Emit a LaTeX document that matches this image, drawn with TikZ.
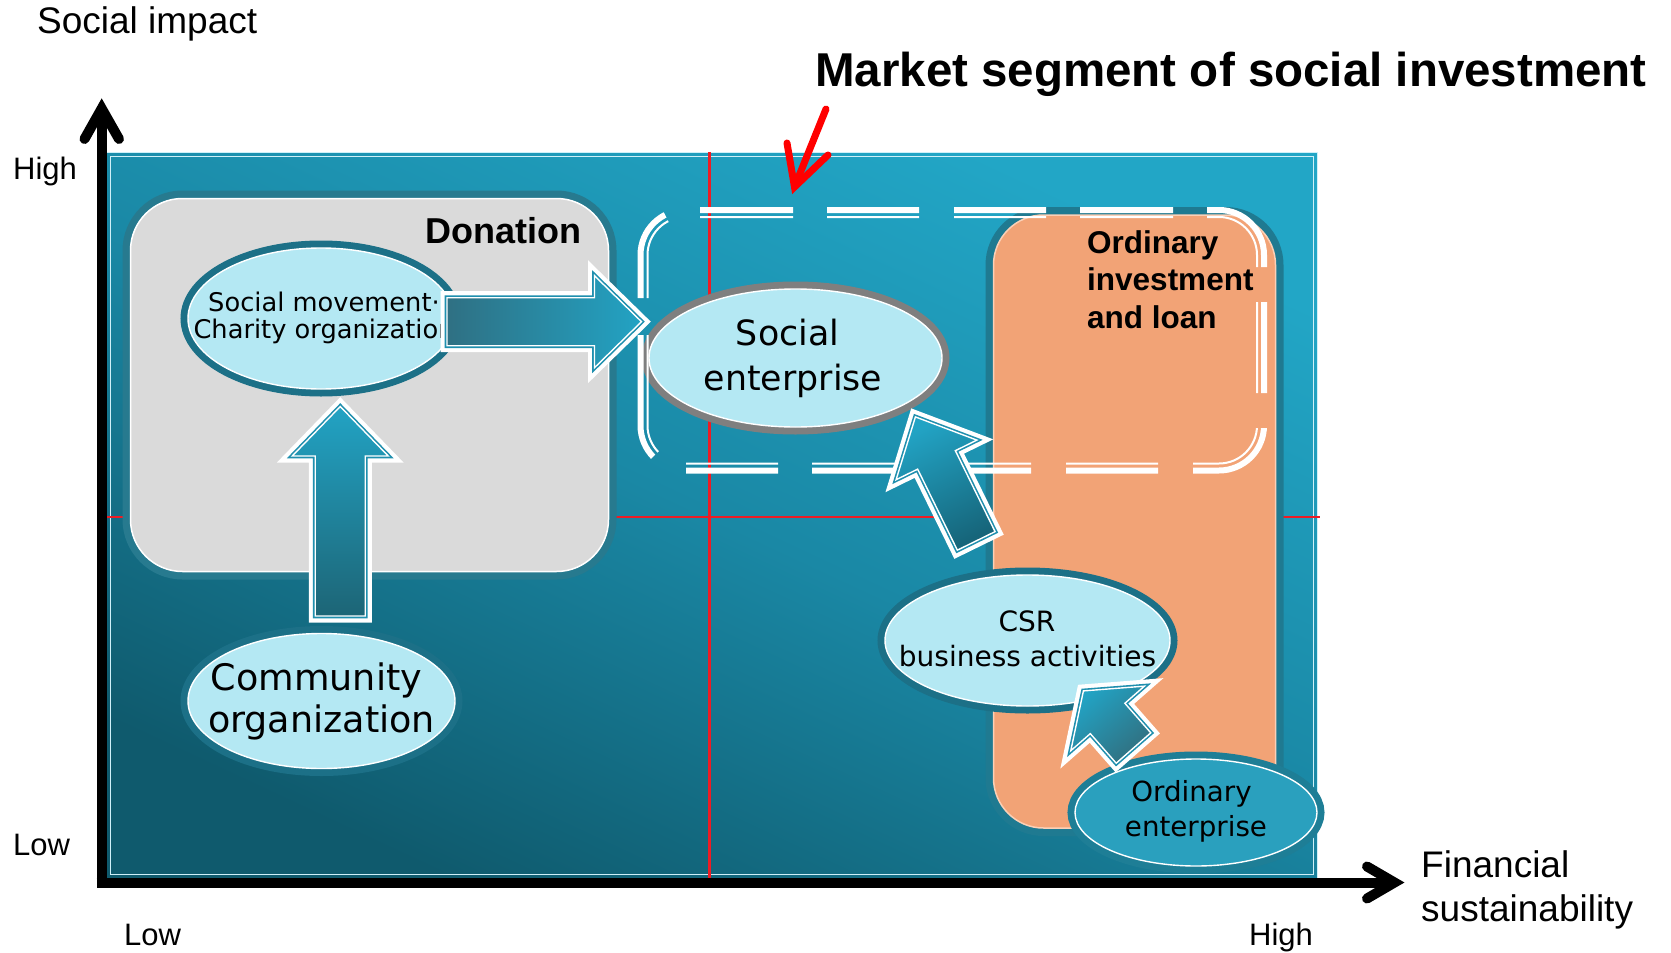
\documentclass[tikz,border=0pt]{standalone}
\usepackage{fontspec}
\setmainfont{Liberation Sans}
\newfontfamily\dvs{DejaVu Sans}
\usetikzlibrary{shapes.geometric,calc}

\definecolor{panellight}{HTML}{22A6C6}
\definecolor{panelmid}{HTML}{1A88A5}
\definecolor{paneldark}{HTML}{0F5A6D}
\definecolor{panelline}{HTML}{CFF0F8}
\definecolor{ellfill}{HTML}{B4E8F3}
\definecolor{bandteal}{HTML}{1C7087}
\definecolor{bandgrey}{HTML}{7F7F7F}
\definecolor{oefill}{HTML}{2AA0BE}
\definecolor{oeband}{HTML}{1E7E96}
\definecolor{boxgrey}{HTML}{DADADA}
\definecolor{boxband}{HTML}{277A8F}
\definecolor{salmon}{HTML}{F2A376}
\definecolor{salmonline}{HTML}{FBD0B6}
\definecolor{salmonband}{HTML}{1F7A91}
\definecolor{gridred}{HTML}{EE1C24}
\definecolor{arrlight}{HTML}{22A3C4}
\definecolor{arrgap}{HTML}{1F8FAE}
\definecolor{darkA}{HTML}{2F7083}
\definecolor{darkB}{HTML}{1D6576}
\definecolor{darkC}{HTML}{16657A}
\definecolor{darkD}{HTML}{316F7F}

% block arrow: #1 options, #2 tail, #3 tip, #4 head-back distance, #5 shaft half width, #6 head half width
\newcommand\blockarrow[6]{%
  \coordinate (#2-b) at ($(#2)!#4!(#3)$);
  \path[#1] ($(#2)!#5!90:(#3)$) -- ($(#2-b)!#5!90:(#3)$) -- ($(#2-b)!#6!90:(#3)$)
    -- (#3) -- ($(#2-b)!#6!-90:(#3)$) -- ($(#2-b)!#5!-90:(#3)$) -- ($(#2)!#5!-90:(#3)$) -- cycle;}

\tikzset{
  ell/.style={ellipse, inner sep=0pt, fill=ellfill, draw=white, line width=1.4pt,
    preaction={draw=#1, line width=15pt}},
  box/.style={rectangle, inner sep=0pt, line width=1.5pt},
  etxt/.style={anchor=base, inner sep=0pt},
  lbl/.style={anchor=base west, inner sep=0pt},
  axisline/.style={line width=10pt},
  axishead/.style={line width=10pt, line cap=round, line join=miter},
  gridline/.style={draw=gridred, line width=2.2pt},
  frameouter/.style={draw=white, line width=6pt, rounded corners=45pt},
  frameinner/.style={draw=white, line width=2pt, rounded corners=38pt},
  barrow/.style={draw=white, line width=1.4pt, line join=miter,
    preaction={draw=white, line width=13pt, line join=miter},
    preaction={draw=arrgap, line width=4.6pt, line join=miter}},
  redmark/.style={draw=red, line width=7pt, line cap=round, line join=miter},
}

\begin{document}
\begin{tikzpicture}[x=1pt,y=-1pt]
\useasboundingbox (0,0) rectangle (1671,953);

% quadrant panel
\path[top color=panellight, bottom color=paneldark, middle color=panelmid, shading angle=-25]
  (106,152) rectangle (1317,878);
\draw[panelline, line width=1pt] (106,152) rectangle (1317,878);
\draw[panelline, line width=1pt] (110,156) rectangle (1313,874);

% quadrant dividers
\draw[gridline] (709.5,152) -- (709.5,878);
\draw[gridline] (101,517) -- (1320,517);

% axes
\coordinate (origin) at (101.7,887.5);
\coordinate (ytip) at (101.7,108.5);
\coordinate (xorigin) at (96.7,882.5);
\coordinate (xtip) at (1394.5,882.5);
\draw[axisline] (origin) -- (ytip);
\draw[axishead] (84.5,139) -- (ytip) -- (119,139);
\draw[axisline] (xorigin) -- (xtip);
\draw[axishead] (1367,866.5) -- (xtip) -- (1367,898.5);

% axis labels
\node[lbl, font=\fontsize{37}{44}\selectfont] (ylabel) at (37,34) {Social impact};
\node[lbl, font=\fontsize{31}{37}\selectfont] (yhigh) at (13,179.5) {High};
\node[lbl, font=\fontsize{31}{37}\selectfont] (ylow) at (13,855) {Low};
\node[lbl, font=\fontsize{31}{37}\selectfont] (xlow) at (124,945) {Low};
\node[lbl, font=\fontsize{31}{37}\selectfont] (xhigh) at (1249,945) {High};
\node[lbl, font=\fontsize{37}{44}\selectfont] (xlabela) at (1421,877) {Financial};
\node[lbl, font=\fontsize{37}{44}\selectfont] (xlabelb) at (1421,921) {sustainability};

% funding areas
\node[box, fill=boxgrey, draw=white, rounded corners=52pt, preaction={draw=boxband, line width=16pt},
  minimum width=478pt, minimum height=373pt] (donbox) at (369.5,385) {};
\node[box, fill=salmon, draw=salmonline, rounded corners=50pt, preaction={draw=salmonband, line width=16pt},
  minimum width=282pt, minimum height=613pt] (invbox) at (1134.5,521.5) {};
\node[anchor=base east, inner sep=0pt, font=\bfseries\fontsize{36}{40}\selectfont] (dontxt) at (582,243.3) {Donation};
\node[lbl, font=\bfseries\fontsize{31.5}{37}\selectfont] (invtxta) at (1087,253.3) {Ordinary};
\node[lbl, font=\bfseries\fontsize{31.5}{37}\selectfont] (invtxtb) at (1087,290.5) {investment};
\node[lbl, font=\bfseries\fontsize{31.5}{37}\selectfont] (invtxtc) at (1087,328) {and loan};

% organisations
\node[ell=bandteal, minimum width=266pt, minimum height=141pt] (sm) at (321,318.5) {};
\node[ell=bandteal, minimum width=267pt, minimum height=135pt] (co) at (321.5,701) {};
\node[ell=bandgrey, minimum width=293pt, minimum height=138pt] (se) at (795.5,358) {};
\node[ell=bandteal, minimum width=285pt, minimum height=131pt] (csr) at (1027.5,640.5) {};
\node[ell=oeband, fill=oefill, minimum width=242pt, minimum height=107pt] (oe) at (1196,812.5) {};

\node[etxt, font=\dvs\fontsize{25.7}{28}\selectfont] (smta) at (324,311) {Social movement·};
\node[etxt, font=\dvs\fontsize{25.7}{28}\selectfont] (smtb) at (324,338.5) {Charity organization};
\node[etxt, font=\dvs\fontsize{36.5}{42}\selectfont] (cota) at (316.5,690) {Community};
\node[etxt, font=\dvs\fontsize{36.5}{42}\selectfont] (cotb) at (321.5,732) {organization};
\node[etxt, font=\dvs\fontsize{34.8}{42}\selectfont] (seta) at (787.5,345) {Social};
\node[etxt, font=\dvs\fontsize{34.8}{42}\selectfont] (setb) at (793,390) {enterprise};
\node[etxt, font=\dvs\fontsize{28}{34}\selectfont] (csrta) at (1027,631.7) {CSR};
\node[etxt, font=\dvs\fontsize{28}{34}\selectfont] (csrtb) at (1027.5,666.7) {business activities};
\node[etxt, font=\dvs\fontsize{27.7}{34}\selectfont] (oeta) at (1191.5,801.7) {Ordinary};
\node[etxt, font=\dvs\fontsize{27.7}{34}\selectfont] (oetb) at (1196,836.7) {enterprise};

% market segment frame (broken double line)
\begin{scope}
  \clip (685.5,255) -- (649.2,183.7) -- (600,183.7) -- (600,298) -- (670,298) -- (670,255) -- cycle
        (600,335) -- (670,335) -- (670,425.5) -- (685.5,425.5) -- (620.8,488) -- (600,488) -- cycle
        (700,190) rectangle (793,232)
        (827,190) rectangle (919,232)
        (954,190) rectangle (1046,232)
        (1080,190) rectangle (1173,232)
        (1207,190) -- (1290,190) -- (1290,267) -- (1240,267) -- (1240,232) -- (1207,232) -- cycle
        (1240,302) rectangle (1290,393)
        (1240,428) -- (1290,428) -- (1290,495) -- (1193,495) -- (1193,450) -- (1240,450) -- cycle
        (686,445) rectangle (778,495)
        (812,445) rectangle (906,495)
        (940,445) rectangle (1031,495)
        (1066,445) rectangle (1158,495);
  \draw[frameouter] (640.5,210) rectangle (1264,470.5);
  \draw[frameinner] (647.5,217) rectangle (1257,463.5);
\end{scope}

% transitions between organisations
\coordinate (a1t) at (447,321.7);     \coordinate (a1p) at (641.5,321.7);
\coordinate (a2t) at (340.25,616);    \coordinate (a2p) at (340.25,406.5);
\coordinate (a3t) at (976.2,540.9);   \coordinate (a3p) at (915.4,416.9);
\coordinate (a4t) at (1133.5,748);    \coordinate (a4p) at (1083.4,690.9);
\blockarrow{barrow, left color=darkA, right color=arrlight}{a1t}{a1p}{147.5pt}{24pt}{46pt}
\blockarrow{barrow, top color=arrlight, bottom color=darkB}{a2t}{a2p}{160pt}{25pt}{48pt}
\blockarrow{barrow, top color=arrlight, bottom color=darkC, shading angle=26.1}{a3t}{a3p}{90.2pt}{21pt}{45pt}
\blockarrow{barrow, top color=arrlight, bottom color=darkD, shading angle=41.3}{a4t}{a4p}{39.3pt}{23pt}{49pt}

% title and pointer
\node[lbl, font=\bfseries\fontsize{47.5}{52}\selectfont] (title) at (815,86.7) {Market segment of social investment};
\coordinate (redstart) at (826,109);
\coordinate (redtip) at (794.5,187);
\draw[redmark] (redstart) -- (redtip);
\draw[redmark] (787,143) -- (redtip) -- (828,155);
\end{tikzpicture}
\end{document}
